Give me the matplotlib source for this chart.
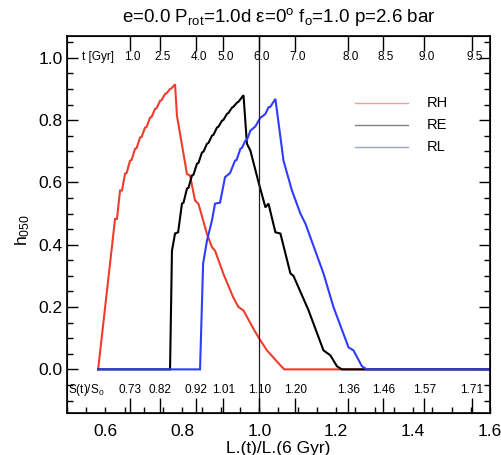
import matplotlib
matplotlib.use("Agg")
import matplotlib.pyplot as plt
from matplotlib.ticker import MultipleLocator

plt.rcParams['font.family'] = ['Liberation Sans', 'DejaVu Sans']
plt.rcParams['mathtext.fontset'] = 'custom'
plt.rcParams['mathtext.rm'] = 'Liberation Sans'
plt.rcParams['mathtext.it'] = 'Liberation Sans:italic'
plt.rcParams['mathtext.bf'] = 'Liberation Sans:bold'

# ---- data ----
rh_L = [0.581, 0.625, 0.630, 0.638, 0.643, 0.651, 0.655, 0.664, 0.668, 0.677, 0.681,
        0.690, 0.694, 0.703, 0.707, 0.716, 0.720, 0.729, 0.733, 0.742, 0.746, 0.755,
        0.759, 0.768, 0.772, 0.781, 0.786, 0.812, 0.820, 0.833, 0.842, 0.864, 0.877,
        0.885, 0.907, 0.932, 0.946, 0.959, 0.985, 1.003, 1.020, 1.055, 1.065, 1.6]
rh_h = [0.0, 0.483, 0.483, 0.574, 0.574, 0.628, 0.630, 0.670, 0.672, 0.708, 0.710,
        0.744, 0.746, 0.776, 0.778, 0.808, 0.810, 0.836, 0.838, 0.862, 0.864, 0.884,
        0.886, 0.900, 0.902, 0.915, 0.814, 0.627, 0.622, 0.542, 0.531, 0.435, 0.392,
        0.381, 0.306, 0.232, 0.200, 0.189, 0.130, 0.093, 0.061, 0.013, 0.0, 0.0]

re_L = [0.581, 0.768, 0.773, 0.781, 0.789, 0.799, 0.803, 0.812, 0.816, 0.825, 0.829,
        0.838, 0.842, 0.851, 0.855, 0.864, 0.868, 0.877, 0.881, 0.890, 0.894, 0.903,
        0.907, 0.916, 0.920, 0.929, 0.933, 0.942, 0.946, 0.959, 0.968, 0.977, 0.997,
        1.016, 1.024, 1.042, 1.055, 1.081, 1.089, 1.128, 1.167, 1.185, 1.202, 1.215, 1.6]
re_h = [0.0, 0.0, 0.381, 0.436, 0.440, 0.532, 0.535, 0.580, 0.583, 0.622, 0.625,
        0.660, 0.663, 0.696, 0.699, 0.724, 0.727, 0.750, 0.753, 0.776, 0.779, 0.798,
        0.801, 0.820, 0.823, 0.840, 0.843, 0.856, 0.859, 0.880, 0.724, 0.702, 0.606,
        0.520, 0.532, 0.440, 0.436, 0.308, 0.300, 0.190, 0.061, 0.045, 0.010, 0.0, 0.0]

rl_L = [0.581, 0.846, 0.854, 0.864, 0.877, 0.885, 0.898, 0.911, 0.924, 0.937, 0.941,
        0.951, 0.955, 0.964, 0.968, 0.977, 0.990, 1.003, 1.007, 1.016, 1.024, 1.029,
        1.042, 1.063, 1.085, 1.107, 1.120, 1.167, 1.193, 1.232, 1.245, 1.267, 1.280, 1.6]
rl_h = [0.0, 0.0, 0.339, 0.413, 0.478, 0.532, 0.535, 0.617, 0.630, 0.670, 0.672,
        0.708, 0.711, 0.734, 0.737, 0.766, 0.780, 0.808, 0.811, 0.820, 0.841, 0.843,
        0.868, 0.670, 0.574, 0.500, 0.468, 0.308, 0.200, 0.071, 0.061, 0.010, 0.0, 0.0]

# secondary scales: tick positions on the L axis and their labels
sec_pos = [0.663, 0.741, 0.836, 0.907, 1.000, 1.094, 1.232, 1.323, 1.429, 1.552]
t_labels = ['1.0', '2.5', '4.0', '5.0', '6.0', '7.0', '8.0', '8.5', '9.0', '9.5']
s_labels = ['0.73', '0.82', '0.92', '1.01', '1.10', '1.20', '1.36', '1.46', '1.57', '1.71']

series_names = ['RH', 'RE', 'RL']
series_colors = ['#ee3d2c', '#000000', '#2f3cff']
legend_colors = ['#f79a94', '#808080', '#9a9cff']

fig = plt.figure(figsize=(5.01, 4.55), dpi=100)
ax = fig.add_axes([0.1337, 0.0923, 0.8443, 0.8286])

for L, h, c in zip([rh_L, re_L, rl_L], [rh_h, re_h, rl_h], series_colors):
    ax.plot(L, h, color=c, lw=1.5, solid_joinstyle='miter')

ax.axvline(1.0, color='#222222', lw=0.9)

ax.set_xlim(0.5, 1.6)
ax.set_ylim(-0.14, 1.07)
ax.xaxis.set_major_locator(MultipleLocator(0.2))
ax.xaxis.set_minor_locator(MultipleLocator(0.05))
ax.yaxis.set_major_locator(MultipleLocator(0.2))
ax.yaxis.set_minor_locator(MultipleLocator(0.05))
ax.xaxis.set_major_formatter(matplotlib.ticker.FormatStrFormatter('%.1f'))
ax.yaxis.set_major_formatter(matplotlib.ticker.FormatStrFormatter('%.1f'))
ax.tick_params(axis='x', which='both', direction='in', top=True, bottom=True,
               length=4, width=1, labelsize=12.5, pad=8)
ax.tick_params(axis='y', which='major', direction='in', left=True, right=True,
               length=8, width=1, labelsize=12.5, pad=3)
ax.tick_params(axis='y', which='minor', direction='in', left=True, right=True,
               length=4, width=1)
for s in ax.spines.values():
    s.set_linewidth(1.2)

ax2 = ax.twiny()
ax2.set_xlim(ax.get_xlim())
ax2.set_xticks(sec_pos)
ax2.tick_params(axis='x', which='major', direction='in', top=True, bottom=True,
                labeltop=False, labelbottom=False, length=11, width=1)
ax2.xaxis.set_minor_locator(matplotlib.ticker.NullLocator())

# inner labels
fs_in = 8.5
ax.text(0.035, 0.944, 't [Gyr]', transform=ax.transAxes, fontsize=fs_in,
        ha='left', va='center')
for p, lab in zip(sec_pos, t_labels):
    ax.text(p + 0.007, 0.944, lab, transform=ax.get_xaxis_transform(),
            fontsize=fs_in, ha='center', va='center')
ax.text(0.002, 0.061, 'S(t)/S$_0$', transform=ax.transAxes, fontsize=fs_in,
        ha='left', va='center')
for p, lab in zip(sec_pos, s_labels):
    ax.text(p, 0.061, lab, transform=ax.get_xaxis_transform(),
            fontsize=fs_in, ha='center', va='center')

# legend
leg_y = [0.822, 0.764, 0.706]
for name, c, y in zip(series_names, legend_colors, leg_y):
    ax.plot([0.681, 0.806], [y, y], color=c, lw=1.0, transform=ax.transAxes)
    ax.text(0.851, y, name, transform=ax.transAxes, fontsize=10.5,
            ha='left', va='center')

ax.set_xlabel('L.(t)/L.(6 Gyr)', fontsize=12.5, labelpad=1)
fig.text(0.046, 0.4945, 'h$_{050}$', rotation=90, fontsize=12.5,
         ha='center', va='center')
fig.text(0.556, 0.962, 'e=0.0 P$_{\\rm rot}$=1.0d \u03b5=0$^{\\rm o}$ f$_{\\rm o}$=1.0 p=2.6 bar',
         fontsize=13.5, ha='center', va='center')

fig.savefig('out.png', dpi=100)
